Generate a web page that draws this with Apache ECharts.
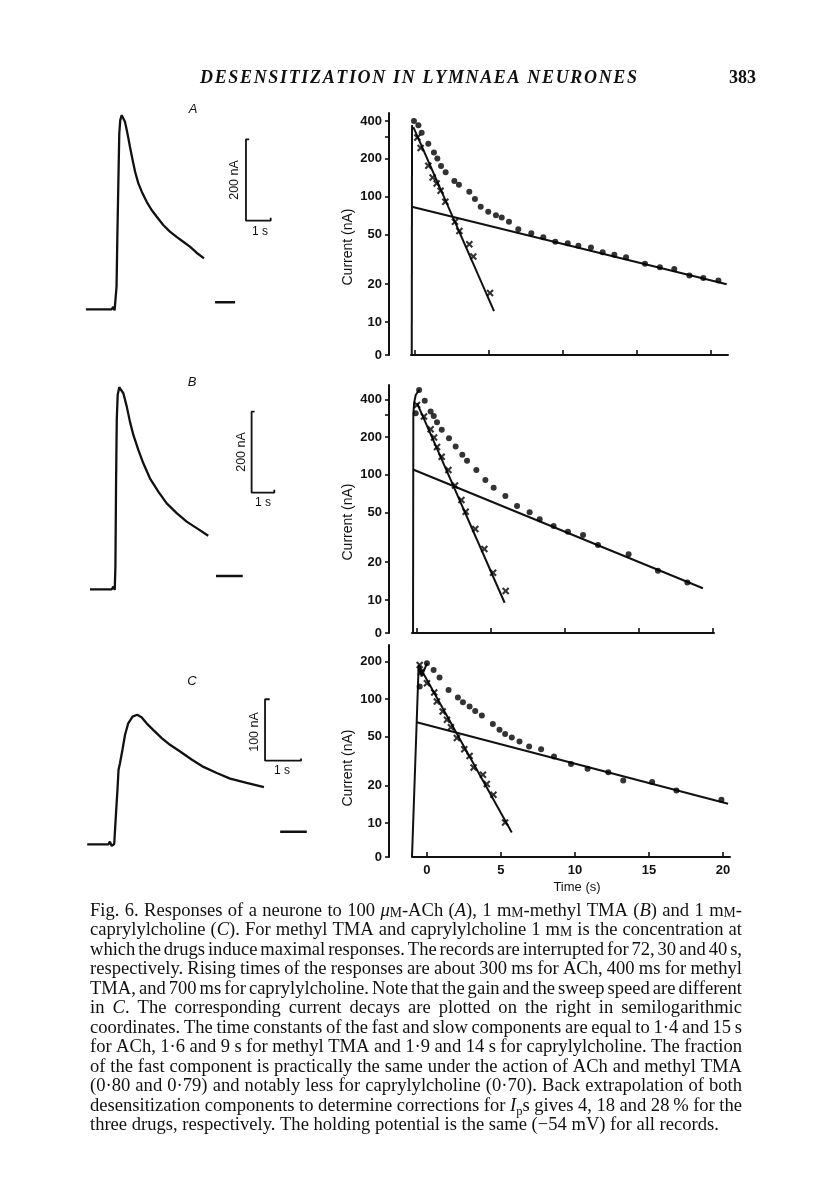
<!DOCTYPE html>
<html>
<head>
<meta charset="utf-8">
<title>Desensitization in Lymnaea neurones - Fig. 6</title>
<script src="https://cdn.jsdelivr.net/npm/echarts@6/dist/echarts.min.js"></script>
<style>
  html, body { margin: 0; padding: 0; background: #fff; }
  #fig { width: 816px; height: 1191px; }
</style>
</head>
<body>
<div id="fig"></div>
<script>
// ---------- values ----------
// left column: current traces, [time (s), current (nA)]
var traceA = [[0.24,0],[1.28,0],[1.35,5.7],[1.40,-2.5],[1.46,0],[1.48,56],[1.51,170],[1.54,269],[1.57,367],[1.59,432],
  [1.63,465],[1.69,477],[1.75,475],[1.82,461],[1.89,441],[1.96,420],[2.02,400],[2.13,367],[2.23,338],[2.36,310],
  [2.50,289],[2.70,264],[2.90,244],[3.10,228],[3.37,207],[3.64,191],[3.91,178],[4.18,166],[4.45,154],[4.72,139],[5.02,125]];
var traceB = [[0.44,0],[1.40,0],[1.47,6.6],[1.53,-1.6],[1.56,56],[1.59,270],[1.62,418],[1.66,480],[1.73,499],[1.81,492],
  [1.91,484],[2.06,451],[2.20,414],[2.35,381],[2.57,344],[2.79,311],[3.08,274],[3.45,241],[3.82,212],[4.26,188],
  [4.70,167],[5.14,151],[5.65,132]];
var traceC = [[0.20,0],[0.79,0],[0.83,4.3],[0.88,-2.7],[0.95,0.5],[1.00,50],[1.04,88],[1.07,121],[1.11,132],[1.18,154],
  [1.25,178],[1.34,197],[1.46,208],[1.59,211],[1.71,207],[1.85,197],[2.04,186],[2.27,173],[2.50,162],[2.78,151],
  [3.10,138],[3.43,126],[3.80,116],[4.17,107],[4.63,100],[5.11,93]];
// baseline after the interruption
var tailA = [[5.47,17.2],[6.28,17.2]];
var tailB = [[5.99,32.8],[7.17,32.8]];
var tailC = [[5.56,20.5],[6.30,20.5]];
// scale bars: [t0, i0, seconds, nA]
var barA = [6.72, 217.7, 1, 200];
var barB = [7.56, 238.5, 1, 200];
var barC = [5.14, 136.2, 1, 100];

// right column: semilog decays, [time (s), current (nA)], 0 = foot of the broken axis
var dotsA = [[-0.07,400],[0.23,370],[0.45,323],[0.90,264],[1.28,224],[1.51,201],[1.76,175],[2.07,156],[2.66,133],[2.97,124],
  [3.67,109],[4.05,95.5],[4.44,83],[4.95,75.7],[5.47,71.1],[5.86,68.2],[6.35,63],[6.98,54.8],[7.86,50.9],[8.67,47.3],
  [9.48,43.7],[10.32,42.4],[11.04,40.6],[11.89,39.2],[12.68,36],[13.47,34.3],[14.26,32.8],[15.54,29.1],[16.55,27.3],
  [17.52,26.4],[18.54,23.5],[19.48,22.4],[20.50,21.4]];
var crossA = [[0.16,295],[0.38,244],[0.90,176],[1.19,142],[1.46,127],[1.73,111],[2.05,91],[2.70,63],[3.00,53.2],
  [3.67,41.7],[3.94,33.3],[5.07,17]];
var fastA = [[-0.11,358],[5.34,12.2]];
var slowA = [[-0.22,83],[21.06,20]];
var riseA = [[-0.22,0],[-0.20,372]];

var dotsB = [[-0.09,309],[0.14,474],[0.52,390],[0.92,319],[1.13,294],[1.35,262],[1.67,228],[2.16,195],[2.61,168],[3.06,144],
  [3.38,129],[4.01,109],[4.62,90.8],[5.18,78.8],[5.97,67.6],[6.76,56.3],[7.61,50.1],[8.29,44.1],[9.23,39],[10.20,35.1],
  [11.22,33],[12.23,27.5],[14.30,23.2],[16.28,17.1],[18.27,13.8]];
var crossB = [[0.0,360],[0.47,291],[0.92,231],[1.15,198],[1.35,166],[1.67,139],[2.12,109],[2.57,81.8],[3.00,62.8],
  [3.29,50.7],[3.94,36.9],[4.55,25.5],[5.14,16.5],[5.99,11.8]];
var fastB = [[0,372],[5.92,9.5]];
var slowB = [[-0.27,110],[19.32,12.4]];
var riseB = [[-0.27,0],[-0.25,300],[-0.20,372],[-0.09,433],[0.14,474]];

var dotsC = [[-0.49,126],[0,194],[0.45,171],[0.85,149],[1.46,118],[2.09,103],[2.43,94.1],[2.88,86.9],[3.26,80.2],[3.71,73.5],
  [4.45,63],[4.90,56.4],[5.28,52.3],[5.73,48.9],[6.25,45.4],[6.90,41.4],[7.71,39.4],[8.58,34.4],[9.73,29.9],[10.85,27.4],
  [12.25,25.7],[13.26,22],[15.21,21.4],[16.85,18.3],[19.89,15.4]];
var crossC = [[-0.49,188],[-0.40,164],[0,134],[0.49,113],[0.67,95.4],[1.06,79.2],[1.35,67.9],[1.62,59.3],[2.02,48.4],
  [2.52,39.4],[2.88,34.8],[3.15,28.1],[3.78,24.5],[4.04,20.7],[4.49,16.9],[5.28,10.1]];
var fastC = [[-0.56,188],[5.73,8.4]];
var slowC = [[-0.69,65],[20.34,14.3]];
var riseC = [[-1.01,0],[-0.56,188],[-0.36,152],[0,194]];

// tick labels
var timeTicks = [0, 5, 10, 15, 20];
var currentTicksAB = [10, 20, 50, 100, 200, 400];
var currentTicksC = [10, 20, 50, 100, 200];
var minorTicksAB = [300];

var capLines = [
  'Fig. 6. Responses of a neurone to 100 {i|\u03bc}{sc|M}-ACh ({i|A}), 1 m{sc|M}-methyl TMA ({i|B}) and 1 m{sc|M}-',
  'caprylylcholine ({i|C}). For methyl TMA and caprylylcholine 1 m{sc|M} is the concentration at',
  'which the drugs induce maximal responses. The records are interrupted for 72, 30 and 40 s,',
  'respectively. Rising times of the responses are about 300 ms for ACh, 400 ms for methyl',
  'TMA, and 700 ms for caprylylcholine. Note that the gain and the sweep speed are different',
  'in {i|C}. The corresponding current decays are plotted on the right in semilogarithmic',
  'coordinates. The time constants of the fast and slow components are equal to 1\u00b74 and 15 s',
  'for ACh, 1\u00b76 and 9 s for methyl TMA and 1\u00b79 and 14 s for caprylylcholine. The fraction',
  'of the fast component is practically the same under the action of ACh and methyl TMA',
  '(0\u00b780 and 0\u00b779) and notably less for caprylylcholine (0\u00b770). Back extrapolation of both',
  'desensitization components to determine corrections for {i|I}{sub|p}s gives 4, 18 and 28\u2009% for the',
  'three drugs, respectively. The holding potential is the same (\u221254 mV) for all records.'
];

// ---------- layout ----------
var ink = '#111';
var sans = '"Liberation Sans", Arial, sans-serif';
var serif = '"Liberation Serif", "Times New Roman", serif';

var tracePanels = [
  { grid: { left: 80, top: 100, width: 220, height: 230 }, x: [0, 8.907], y: [-50.9, 514.3], data: traceA, tail: tailA, bar: barA },
  { grid: { left: 80, top: 375, width: 220, height: 230 }, x: [0, 9.692], y: [-38.8, 529.1], data: traceB, tail: tailB, bar: barB },
  { grid: { left: 80, top: 650, width: 230, height: 210 }, x: [0, 6.389], y: [-25.6, 316.4], data: traceC, tail: tailC, bar: barC }
];
var logPanels = [
  { grid: { left: 411, top: 113, width: 317, height: 242 }, x: [-0.27, 21.15], y: [0.737, 2.666], offset: 22,
    ticks: currentTicksAB, minor: minorTicksAB, timeLabels: false, dots: dotsA, cross: crossA, fast: fastA, slow: slowA, rise: riseA },
  { grid: { left: 412, top: 385, width: 302, height: 248 }, x: [-0.34, 20.07], y: [0.736, 2.716], offset: 23,
    ticks: currentTicksAB, minor: minorTicksAB, timeLabels: false, dots: dotsB, cross: crossB, fast: fastB, slow: slowB, rise: riseB },
  { grid: { left: 412, top: 645, width: 318, height: 212 }, x: [-1.01, 20.47], y: [0.727, 2.435], offset: 23,
    ticks: currentTicksC, minor: [], timeLabels: true, dots: dotsC, cross: crossC, fast: fastC, slow: slowC, rise: riseC }
];

function toLog(points, floor) {
  return points.map(function (p) { return [p[0], p[1] > 0 ? Math.log10(p[1]) : floor]; });
}
function barPath(b) {
  var t = b[0], i = b[1], dt = b[2], di = b[3];
  return [[t + 0.13 * dt, i + di], [t, i + di], [t, i], [t + dt, i], [t + dt, i + 0.035 * di]];
}
function lineSeries(g, data, width) {
  return {
    type: 'line', xAxisIndex: g, yAxisIndex: g, data: data, showSymbol: false, symbol: 'none',
    lineStyle: { color: ink, width: width || 2 }, silent: true, z: 2
  };
}

var grids = [], xAxes = [], yAxes = [], series = [];

tracePanels.forEach(function (p, k) {
  grids.push(p.grid);
  xAxes.push({ gridIndex: k, type: 'value', min: p.x[0], max: p.x[1], show: false });
  yAxes.push({ gridIndex: k, type: 'value', min: p.y[0], max: p.y[1], show: false });
  series.push(lineSeries(k, p.data, 2.3));
  series.push(lineSeries(k, p.tail, 2.4));
  series.push(lineSeries(k, barPath(p.bar), 1.8));
});

var crossPath = 'path://M0,2L2,0L5,3L8,0L10,2L7,5L10,8L8,10L5,7L2,10L0,8L3,5Z';

logPanels.forEach(function (p, k) {
  var g = k + 3;
  var floor = p.y[0];
  var logTicks = p.ticks.map(function (v) { return Math.log10(v); });
  var tickVals = [floor].concat(logTicks, p.minor.map(function (v) { return Math.log10(v); }));
  grids.push(p.grid);
  xAxes.push({
    gridIndex: g, type: 'value', min: p.x[0], max: p.x[1],
    axisLine: { show: true, onZero: false, lineStyle: { color: ink, width: 2 } },
    axisTick: { show: true, inside: true, length: 5, customValues: timeTicks, lineStyle: { color: ink, width: 1.6 } },
    axisLabel: { show: p.timeLabels, customValues: timeTicks, margin: 7, color: ink, fontSize: 13, fontWeight: 'bold', fontFamily: sans },
    splitLine: { show: false }
  });
  yAxes.push({
    gridIndex: g, type: 'value', min: p.y[0], max: p.y[1], offset: p.offset,
    axisLine: { show: true, onZero: false, lineStyle: { color: ink, width: 2 } },
    axisTick: { show: true, length: 4, customValues: tickVals, lineStyle: { color: ink, width: 1.6 } },
    axisLabel: {
      customValues: [floor].concat(logTicks), margin: 7, color: ink, fontSize: 13, fontWeight: 'bold', fontFamily: sans,
      formatter: function (v) { return v <= floor + 1e-6 ? '0' : String(Math.round(Math.pow(10, v))); }
    },
    splitLine: { show: false }
  });
  series.push(lineSeries(g, toLog(p.rise, floor), 2));
  series.push(lineSeries(g, toLog(p.fast, floor), 2));
  series.push(lineSeries(g, toLog(p.slow, floor), 2));
  series.push({
    type: 'scatter', xAxisIndex: g, yAxisIndex: g, data: toLog(p.cross, floor), symbol: crossPath, symbolSize: 7.5,
    itemStyle: { color: '#000' }, silent: true, z: 3
  });
  series.push({
    type: 'scatter', xAxisIndex: g, yAxisIndex: g, data: toLog(p.dots, floor), symbol: 'circle', symbolSize: 6,
    itemStyle: { color: '#000' }, silent: true, z: 4
  });
});

// ---------- text ----------
var graphics = [];
function txt(text, x, y, font, opt) {
  opt = opt || {};
  var align = opt.align || 'center', va = opt.va || 'middle';
  graphics.push({
    type: 'text', x: x, y: y, rotation: opt.rotation || 0, silent: true,
    style: { text: text, font: font, fill: ink, align: align, verticalAlign: va, textAlign: align, textVerticalAlign: va }
  });
}

txt('A', 193, 109, 'italic 13px ' + sans);
txt('B', 192, 382, 'italic 13px ' + sans);
txt('C', 192, 681, 'italic 13px ' + sans);
txt('200 nA', 235, 180, '12.5px ' + sans, { rotation: Math.PI / 2 });
txt('1 s', 260, 232, '12px ' + sans);
txt('200 nA', 242, 452, '12.5px ' + sans, { rotation: Math.PI / 2 });
txt('1 s', 263, 503, '12px ' + sans);
txt('100 nA', 255, 732, '12.5px ' + sans, { rotation: Math.PI / 2 });
txt('1 s', 282, 771, '12px ' + sans);
txt('Current (nA)', 348, 247, '14px ' + sans, { rotation: Math.PI / 2 });
txt('Current (nA)', 348, 522, '14px ' + sans, { rotation: Math.PI / 2 });
txt('Current (nA)', 348, 768, '14px ' + sans, { rotation: Math.PI / 2 });
txt('Time (s)', 577, 887, '13px ' + sans);

var ctx = document.createElement('canvas').getContext('2d');
function width(str, font) { ctx.font = font; return ctx.measureText(str).width; }

// running head, letter-spaced between two edges
(function () {
  var head = 'DESENSITIZATION IN LYMNAEA NEURONES';
  var font = 'italic bold 18px ' + serif;
  var x0 = 200, x1 = 637, chars = head.split('');
  var sum = chars.reduce(function (s, c) { return s + width(c, font); }, 0);
  var gap = (x1 - x0 - sum) / (chars.length - 1);
  var x = x0;
  chars.forEach(function (c) {
    if (c !== ' ') txt(c, x, 78, font, { align: 'left' });
    x += width(c, font) + gap;
  });
  txt('383', 756, 78, 'bold 18px ' + serif, { align: 'right' });
})();

// caption, justified
(function () {
  var capX = 90, capW = 652, capY0 = 911, lead = 19.5, lastWidth = 629;
  var fs = 15;
  function segFont(kind, size) {
    if (kind === 'i') return 'italic ' + size + 'px ' + serif;
    if (kind === 'sc') return (size * 0.74).toFixed(2) + 'px ' + serif;
    if (kind === 'sub') return (size * 0.68).toFixed(2) + 'px ' + serif;
    return size + 'px ' + serif;
  }
  function parse(word) {
    var segs = [];
    word.replace(/\{(\w+)\|([^}]*)\}|([^{]+)/g, function (m, k, t, plain) {
      segs.push(plain ? ['n', plain] : [k, t]);
    });
    return segs;
  }
  function wordWidth(segs, size) {
    return segs.reduce(function (s, g) { return s + width(g[1], segFont(g[0], size)); }, 0);
  }
  function natural(line, size) {
    var words = line.split(' ').map(parse);
    var sum = words.reduce(function (s, w) { return s + wordWidth(w, size); }, 0);
    return sum + (words.length - 1) * width(' ', segFont('n', size));
  }
  fs = +(fs * lastWidth / natural(capLines[capLines.length - 1], fs)).toFixed(2);
  var space = width(' ', segFont('n', fs));

  capLines.forEach(function (line, k) {
    var words = line.split(' ').map(parse);
    var widths = words.map(function (w) { return wordWidth(w, fs); });
    var sum = widths.reduce(function (a, b) { return a + b; }, 0);
    var gap = k < capLines.length - 1 ? (capW - sum) / (words.length - 1) : space;
    var x = capX, y = capY0 + k * lead + fs / 2;
    words.forEach(function (segs, j) {
      var sx = x;
      segs.forEach(function (g) {
        var f = segFont(g[0], fs);
        txt(g[1], sx, g[0] === 'sub' ? y + 3 : y, f, { align: 'left', va: 'bottom' });
        sx += width(g[1], f);
      });
      x += widths[j] + gap;
    });
  });
})();

var chart = echarts.init(document.getElementById('fig'));
chart.setOption({
  backgroundColor: '#fff',
  animation: false,
  textStyle: { fontFamily: sans },
  grid: grids,
  xAxis: xAxes,
  yAxis: yAxes,
  series: series,
  graphic: { elements: graphics }
});
</script>
</body>
</html>
